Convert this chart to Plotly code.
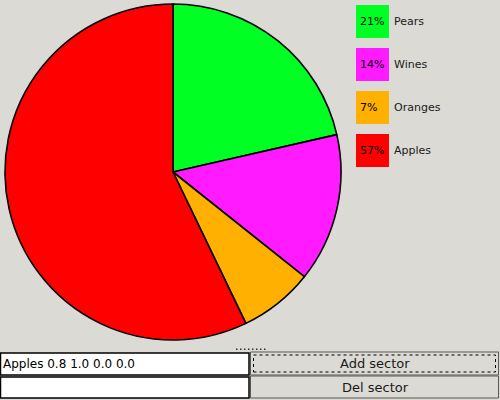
import plotly.graph_objects as go

labels = ["Pears", "Wines", "Oranges", "Apples"]
values = [3, 2, 1, 8]
colors = ["#00ff22", "#ff1aff", "#ffb000", "#ff0000"]
entry_text = "Apples 0.8 1.0 0.0 0.0"
button_labels = ["Add sector", "Del sector"]

W, H = 500, 400
BG = "#dcdad5"
FONT = "DejaVu Sans"


def px(x):
    return x / W


def py(y):
    return 1 - y / H


fig = go.Figure()
fig.add_trace(go.Pie(
    labels=labels, values=values, sort=False, direction="clockwise", rotation=0,
    marker=dict(colors=colors, line=dict(color="black", width=1.6)),
    textinfo="none", hoverinfo="label+percent", showlegend=False,
    domain=dict(x=[px(5), px(341)], y=[py(340), py(4)]),
))

shapes = []
annotations = []
total = sum(values)
for i, (lab, val, col) in enumerate(zip(labels, values, colors)):
    y0 = 5 + i * 43
    shapes.append(dict(type="rect", xref="paper", yref="paper",
                       x0=px(356), x1=px(389), y0=py(y0 + 33), y1=py(y0),
                       fillcolor=col, line=dict(width=0)))
    annotations.append(dict(x=px(358), y=py(y0 + 16.5), xref="paper", yref="paper",
                            text=f"{round(val / total * 100)}%", showarrow=False,
                            xanchor="left", yanchor="middle",
                            font=dict(family=FONT, size=11, color="black")))
    annotations.append(dict(x=px(392), y=py(y0 + 16.5), xref="paper", yref="paper",
                            text=lab, showarrow=False, xanchor="left", yanchor="middle",
                            font=dict(family=FONT, size=11, color="#1a1a1a")))

# entry fields
for (y0, y1) in [(353, 375), (377, 398)]:
    shapes.append(dict(type="rect", xref="paper", yref="paper",
                       x0=px(0.5), x1=px(249), y0=py(y1), y1=py(y0),
                       fillcolor="white", line=dict(color="black", width=1.5)))
annotations.append(dict(x=px(1), y=py(364), xref="paper", yref="paper",
                        text=entry_text, showarrow=False, xanchor="left", yanchor="middle",
                        font=dict(family=FONT, size=12, color="black")))

# buttons
for i, ((y0, y1), lab) in enumerate(zip([(352, 375), (376, 398)], button_labels)):
    shapes.append(dict(type="rect", xref="paper", yref="paper",
                       x0=px(250.5), x1=px(498.5), y0=py(y1), y1=py(y0),
                       fillcolor=BG, line=dict(color="#5a5955", width=1)))
    if i == 0:
        shapes.append(dict(type="rect", xref="paper", yref="paper",
                           x0=px(253.5), x1=px(495.5), y0=py(y1 - 3), y1=py(y0 + 3),
                           fillcolor="rgba(0,0,0,0)", line=dict(color="black", width=1, dash="dot")))
    annotations.append(dict(x=px(375), y=py((y0 + y1) / 2), xref="paper", yref="paper",
                            text=lab, showarrow=False, xanchor="center", yanchor="middle",
                            font=dict(family=FONT, size=13, color="#1a1a1a")))

# sash handle dots
for k in range(8):
    xx = 236 + k * 4
    shapes.append(dict(type="rect", xref="paper", yref="paper",
                       x0=px(xx), x1=px(xx + 1.5), y0=py(350), y1=py(348.5),
                       fillcolor="#333333", line=dict(width=0)))

fig.update_layout(
    width=W, height=H, margin=dict(l=0, r=0, t=0, b=0),
    paper_bgcolor=BG, plot_bgcolor=BG,
    shapes=shapes, annotations=annotations,
)
fig.write_html("out.html", config={"displayModeBar": False},
               post_script="document.body.style.margin='0';document.body.style.overflow='hidden';")
